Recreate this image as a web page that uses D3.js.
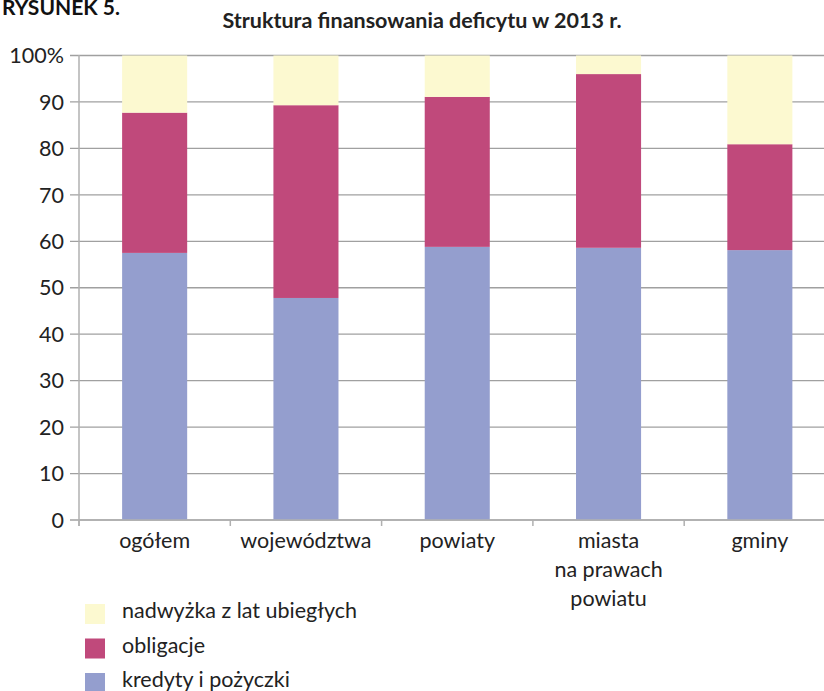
<!DOCTYPE html>
<html><head><meta charset="utf-8">
<script src="https://cdn.jsdelivr.net/npm/d3@7"></script>
<style>body{margin:0;background:#fff}svg{display:block}</style>
</head><body><svg id="c" width="824" height="691"></svg>
<script>
const categories = ["ogółem","województwa","powiaty","miasta\nna prawach\npowiatu","gminy"];
const kredyty = [57.5, 47.8, 58.8, 58.6, 58.1];
const obligacje = [30.2, 41.5, 32.3, 37.4, 22.8];
const nadwyzka = [12.3, 10.7, 8.9, 4.0, 19.1];
const seriesNames = ["kredyty i pożyczki","obligacje","nadwyżka z lat ubiegłych"];
const colors = ["#949ECE","#C0497B","#FCF9D0"];
const yTicks = [0,10,20,30,40,50,60,70,80,90,100];

const svg = d3.select("#c");
const font = "Lato, 'Open Sans', sans-serif";
const fs = 21.5;
const x = d3.scaleBand().domain(d3.range(categories.length)).range([79, 79+5*151.3]).paddingInner(0.57).paddingOuter(0.285);
const y = d3.scaleLinear().domain([0,100]).range([520,55.5]);

svg.append("text").attr("x",2).attr("y",15).attr("font-family",font).attr("font-weight","bold").attr("font-size",21).attr("fill","#111").text("RYSUNEK 5.");
svg.append("text").attr("x",422).attr("y",28).attr("text-anchor","middle").attr("font-family",font).attr("font-weight","bold").attr("font-size",21.5).attr("fill","#222").text("Struktura finansowania deficytu w 2013 r.");

// gridlines
svg.append("g").selectAll("line").data(yTicks).join("line")
  .attr("x1",70).attr("x2",824).attr("y1",d=>y(d)).attr("y2",d=>y(d))
  .attr("stroke","#a0a0a0").attr("stroke-width",1.3);
svg.append("g").selectAll("text").data(yTicks).join("text")
  .attr("x",64).attr("y",d=>y(d)).attr("dy","0.36em").attr("text-anchor","end")
  .attr("font-family",font).attr("font-size",fs).attr("fill","#222")
  .text(d=>d===100?"100%":d);

const data = categories.map((c,i)=>({i, k:kredyty[i], o:obligacje[i], n:nadwyzka[i]}));
const stack = d3.stack().keys(["k","o","n"])(data);
svg.append("g").selectAll("g").data(stack).join("g").attr("fill",(d,i)=>colors[i])
  .selectAll("rect").data(d=>d).join("rect")
  .attr("x",d=>x(d.data.i)).attr("width",x.bandwidth())
  .attr("y",d=>y(d[1])).attr("height",d=>y(d[0])-y(d[1]));

// axes
svg.append("line").attr("x1",79).attr("x2",79).attr("y1",55).attr("y2",526).attr("stroke","#b0b0b0").attr("stroke-width",1.5);
svg.append("line").attr("x1",79).attr("x2",824).attr("y1",520).attr("y2",520).attr("stroke","#b0b0b0").attr("stroke-width",1.5);
const step = x.step();
svg.append("g").selectAll("line").data(d3.range(categories.length)).join("line")
  .attr("x1",d=>79+d*step).attr("x2",d=>79+d*step).attr("y1",520).attr("y2",526)
  .attr("stroke","#b0b0b0").attr("stroke-width",1.5);

const lab = svg.append("g").selectAll("text").data(categories).join("text")
  .attr("text-anchor","middle").attr("font-family",font).attr("font-size",fs).attr("fill","#222");
lab.each(function(d,i){
  const t=d3.select(this); const cx=x(i)+x.bandwidth()/2;
  d.split("\n").forEach((s,j)=>t.append("tspan").attr("x",cx).attr("y",548+j*29).text(s));
});

// legend
const leg = [2,1,0];
const lg = svg.append("g").selectAll("g").data(leg).join("g").attr("transform",(d,j)=>`translate(85,${604+j*34.5})`);
lg.append("rect").attr("width",20).attr("height",20).attr("fill",d=>colors[d]);
lg.append("text").attr("x",37).attr("y",14).attr("font-family",font).attr("font-size",fs).attr("fill","#222").text(d=>seriesNames[d]);
</script></body></html>
